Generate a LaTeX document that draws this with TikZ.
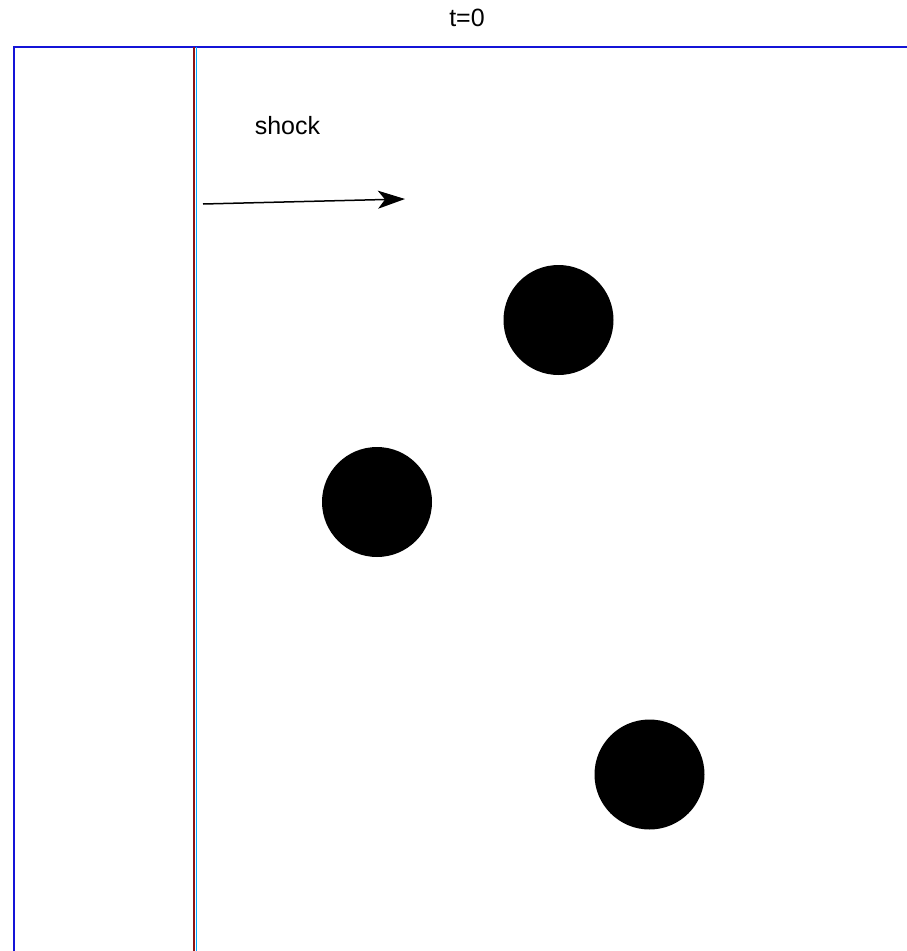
\documentclass[tikz,border=0pt]{standalone}
\usepackage{fontspec}
\setmainfont{Liberation Sans}
\usetikzlibrary{arrows.meta}
\definecolor{framecol}{RGB}{20,20,215}
\definecolor{shockred}{RGB}{140,20,20}
\definecolor{shockcyan}{RGB}{0,170,255}
\tikzset{
  particle/.style={circle, fill=black, minimum size=110pt, inner sep=0pt},
  lbl/.style={font=\fontsize{25}{29}\selectfont, inner sep=0pt}
}
\begin{document}
\begin{tikzpicture}[x=1pt,y=-1pt]
\useasboundingbox[fill=white] (0,0) rectangle (907,951);
% frame
\draw[framecol, line width=2pt] (13.5,951) -- (13.5,47) -- (907,47);
% shock front
\draw[shockred, line width=2.6pt] (194,47) -- (194,951);
\draw[shockcyan, line width=1.4pt] (196.6,47) -- (196.6,951);
% labels
\node[lbl] (title) at (467,18) {t=0};
\node[lbl] (shock) at (287.5,126) {shock};
% arrow
\coordinate (a0) at (203,204);
\coordinate (a1) at (405,199);
\draw[line width=1.5pt, -{Stealth[length=27pt,width=18pt,inset=7pt]}] (a0) -- (a1);
% particles
\node[particle] (p1) at (558.5,320) {};
\node[particle] (p2) at (377,502) {};
\node[particle] (p3) at (649.5,774.5) {};
\end{tikzpicture}
\end{document}
